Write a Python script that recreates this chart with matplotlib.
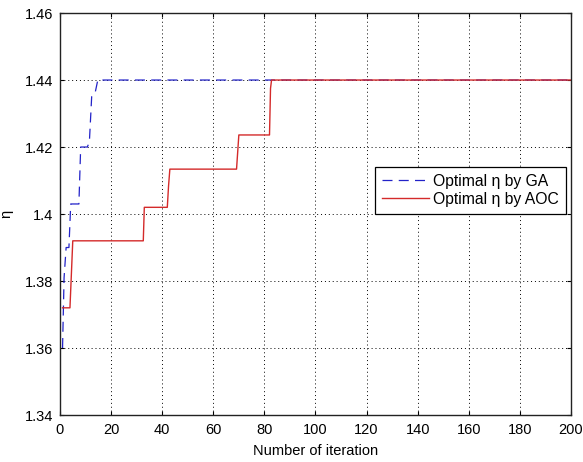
import matplotlib
matplotlib.use("Agg")
import matplotlib.pyplot as plt

plt.rcParams['font.family'] = ['Liberation Sans', 'DejaVu Sans']

# GA convergence (iteration, optimal eta)
ga_iter = [1, 1.6, 2.4, 3.5, 4.2, 7.4, 8.1, 10.7, 11.5, 12.4, 13.7, 14.8, 200]
ga_eta = [1.360, 1.381, 1.390, 1.390, 1.403, 1.403, 1.420, 1.420, 1.4215, 1.435, 1.436, 1.440, 1.440]

# AOC convergence
aoc_iter = [1, 3.9, 4.4, 5.0, 32.6, 33.0, 42.0, 42.5, 43.0, 69.1, 70.0, 82.0, 82.4, 82.8, 200]
aoc_eta = [1.372, 1.372, 1.381, 1.392, 1.392, 1.402, 1.402, 1.4085, 1.4134, 1.4134, 1.4236, 1.4236, 1.4375, 1.440, 1.440]

x_ticks = list(range(0, 201, 20))
y_ticks = [1.34, 1.36, 1.38, 1.40, 1.42, 1.44, 1.46]
y_tick_labels = ['1.34', '1.36', '1.38', '1.4', '1.42', '1.44', '1.46']

fig = plt.figure(figsize=(5.83, 4.62), dpi=100)
ax = fig.add_axes([0.1029, 0.1017, 0.8765, 0.8701])

ax.plot(ga_iter, ga_eta, color='#2222c8', lw=0.9, linestyle=(0, (8, 5)),
        label='Optimal η by GA')
ax.plot(aoc_iter, aoc_eta, color='#d42a2a', lw=1.0, label='Optimal η by AOC')

ax.set_xlim(0, 200)
ax.set_ylim(1.34, 1.46)
ax.set_xticks(x_ticks)
ax.set_yticks(y_ticks)
ax.set_yticklabels(y_tick_labels)

ax.grid(True, color='black', linestyle=(0, (1, 3)), lw=0.7)
ax.tick_params(direction='in', length=3, width=0.8, top=True, right=True,
               labelsize=10.5, colors='black')
ax.tick_params(axis='x', pad=6)
ax.tick_params(axis='y', pad=5)
for s in ax.spines.values():
    s.set_linewidth(1.0)
    s.set_color('#222222')

ax.set_xlabel('Number of iteration', fontsize=10.5, labelpad=5)
ax.set_ylabel('η', fontsize=10.5, labelpad=8)

leg = ax.legend(loc='lower left', bbox_to_anchor=(0.616, 0.5), borderaxespad=0,
                fontsize=11.3, handlelength=3.0, handletextpad=0.25,
                fancybox=False, framealpha=1, edgecolor='black',
                borderpad=0.45, labelspacing=0.2)
leg.get_frame().set_linewidth(0.9)

fig.savefig('out.png', dpi=100)
